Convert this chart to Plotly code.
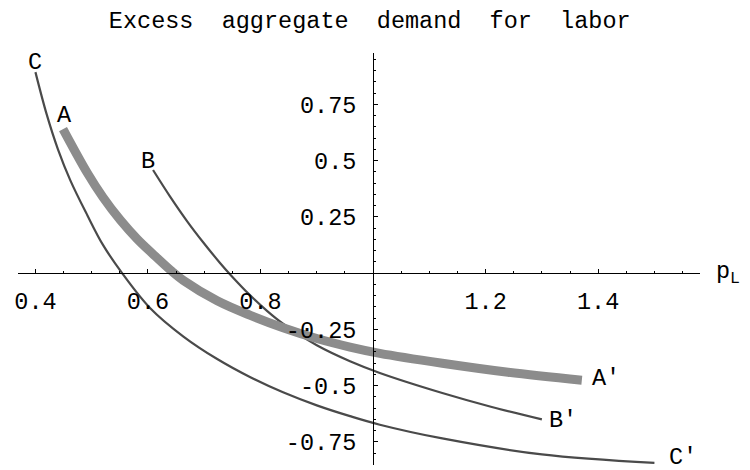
import plotly.graph_objects as go

# Price of labour (p_L) and excess aggregate demand along each curve
a_x = [0.449, 0.492, 0.520, 0.551, 0.581, 0.609, 0.640, 0.663, 0.723, 0.782, 0.840, 0.900, 0.959, 1.012, 1.123, 1.240, 1.371]
a_y = [0.640, 0.446, 0.337, 0.235, 0.151, 0.084, 0.013, -0.033, -0.123, -0.188, -0.243, -0.291, -0.329, -0.357, -0.401, -0.441, -0.476]

b_x = [0.609, 0.639, 0.670, 0.698, 0.728, 0.746, 0.782, 0.812, 0.840, 0.900, 0.959, 1.012, 1.123, 1.211, 1.300]
b_y = [0.458, 0.341, 0.229, 0.137, 0.045, -0.006, -0.100, -0.169, -0.225, -0.321, -0.392, -0.444, -0.533, -0.595, -0.650]

c_x = [0.400, 0.420, 0.440, 0.462, 0.492, 0.520, 0.554, 0.604, 0.663, 0.723, 0.782, 0.840, 0.900, 0.959, 1.012, 1.123, 1.300, 1.500]
c_y = [0.893, 0.705, 0.550, 0.412, 0.258, 0.125, 0.000, -0.156, -0.282, -0.382, -0.463, -0.530, -0.588, -0.636, -0.674, -0.735, -0.806, -0.844]

x_ticks = [0.4, 0.6, 0.8, 1.2, 1.4]
x_tick_text = ["0.4", "0.6", "0.8", "1.2", "1.4"]
y_ticks = [0.75, 0.5, 0.25, -0.25, -0.5, -0.75]
y_tick_text = ["0.75", "0.5", "0.25", "-0.25", "-0.5", "-0.75"]

# Curve end labels: (text, x, y)
curve_labels = [
    ("C", 0.400, 0.938),
    ("A", 0.451, 0.700),
    ("B", 0.600, 0.497),
    ("A'", 1.414, -0.467),
    ("B'", 1.338, -0.653),
    ("C'", 1.551, -0.818),
]

X_RANGE = [0.369, 1.581]
Y_RANGE = [-0.853, 0.978]
FONT = "Liberation Mono, Courier New, monospace"
FS = 23.5

fig = go.Figure()
fig.add_trace(go.Scatter(x=c_x, y=c_y, mode="lines",
                         line=dict(color="#4a4a4a", width=2.2, shape="spline", smoothing=1)))
fig.add_trace(go.Scatter(x=b_x, y=b_y, mode="lines",
                         line=dict(color="#4a4a4a", width=2.2, shape="spline", smoothing=1)))
fig.add_trace(go.Scatter(x=a_x, y=a_y, mode="lines",
                         line=dict(color="#8c8c8c", width=9, shape="spline", smoothing=1)))

for text, x, y in curve_labels:
    fig.add_annotation(x=x, y=y, text=text, showarrow=False,
                       font=dict(family=FONT, size=FS, color="black"))

# Axis label for the horizontal axis, to the right of the axis line
fig.add_annotation(x=1.0, xref="paper", xanchor="left", xshift=14,
                   y=0.0, yref="y", text="p<sub>L</sub>", showarrow=False,
                   font=dict(family=FONT, size=FS, color="black"))

x_pos = (0 - Y_RANGE[0]) / (Y_RANGE[1] - Y_RANGE[0])
y_pos = (1.0 - X_RANGE[0]) / (X_RANGE[1] - X_RANGE[0])

fig.update_layout(
    width=750, height=470,
    margin=dict(l=18, r=50, t=53, b=5),
    paper_bgcolor="white", plot_bgcolor="white",
    showlegend=False,
    title=dict(text="Excess  aggregate  demand  for  labor",
               x=0.493, xanchor="center", y=0.957, yanchor="middle",
               font=dict(family=FONT, size=FS, color="black")),
    xaxis=dict(range=X_RANGE, anchor="free", position=x_pos,
               showline=True, linecolor="black", linewidth=1,
               showgrid=False, zeroline=False,
               ticks="inside", ticklen=4, tickcolor="black",
               tickvals=x_ticks, ticktext=x_tick_text,
               ticklabelstandoff=7,
               minor=dict(ticks="inside", ticklen=2, dtick=0.05, tick0=0, tickcolor="black", showgrid=False),
               tickfont=dict(family=FONT, size=FS, color="black")),
    yaxis=dict(range=Y_RANGE, anchor="free", position=y_pos,
               showline=True, linecolor="black", linewidth=1,
               showgrid=False, zeroline=False,
               ticks="inside", ticklen=4, tickcolor="black",
               tickvals=y_ticks, ticktext=y_tick_text,
               ticklabelstandoff=12,
               minor=dict(ticks="inside", ticklen=2, dtick=0.05, tick0=0, tickcolor="black", showgrid=False),
               tickfont=dict(family=FONT, size=FS, color="black")),
)

fig.write_html("out.html")
